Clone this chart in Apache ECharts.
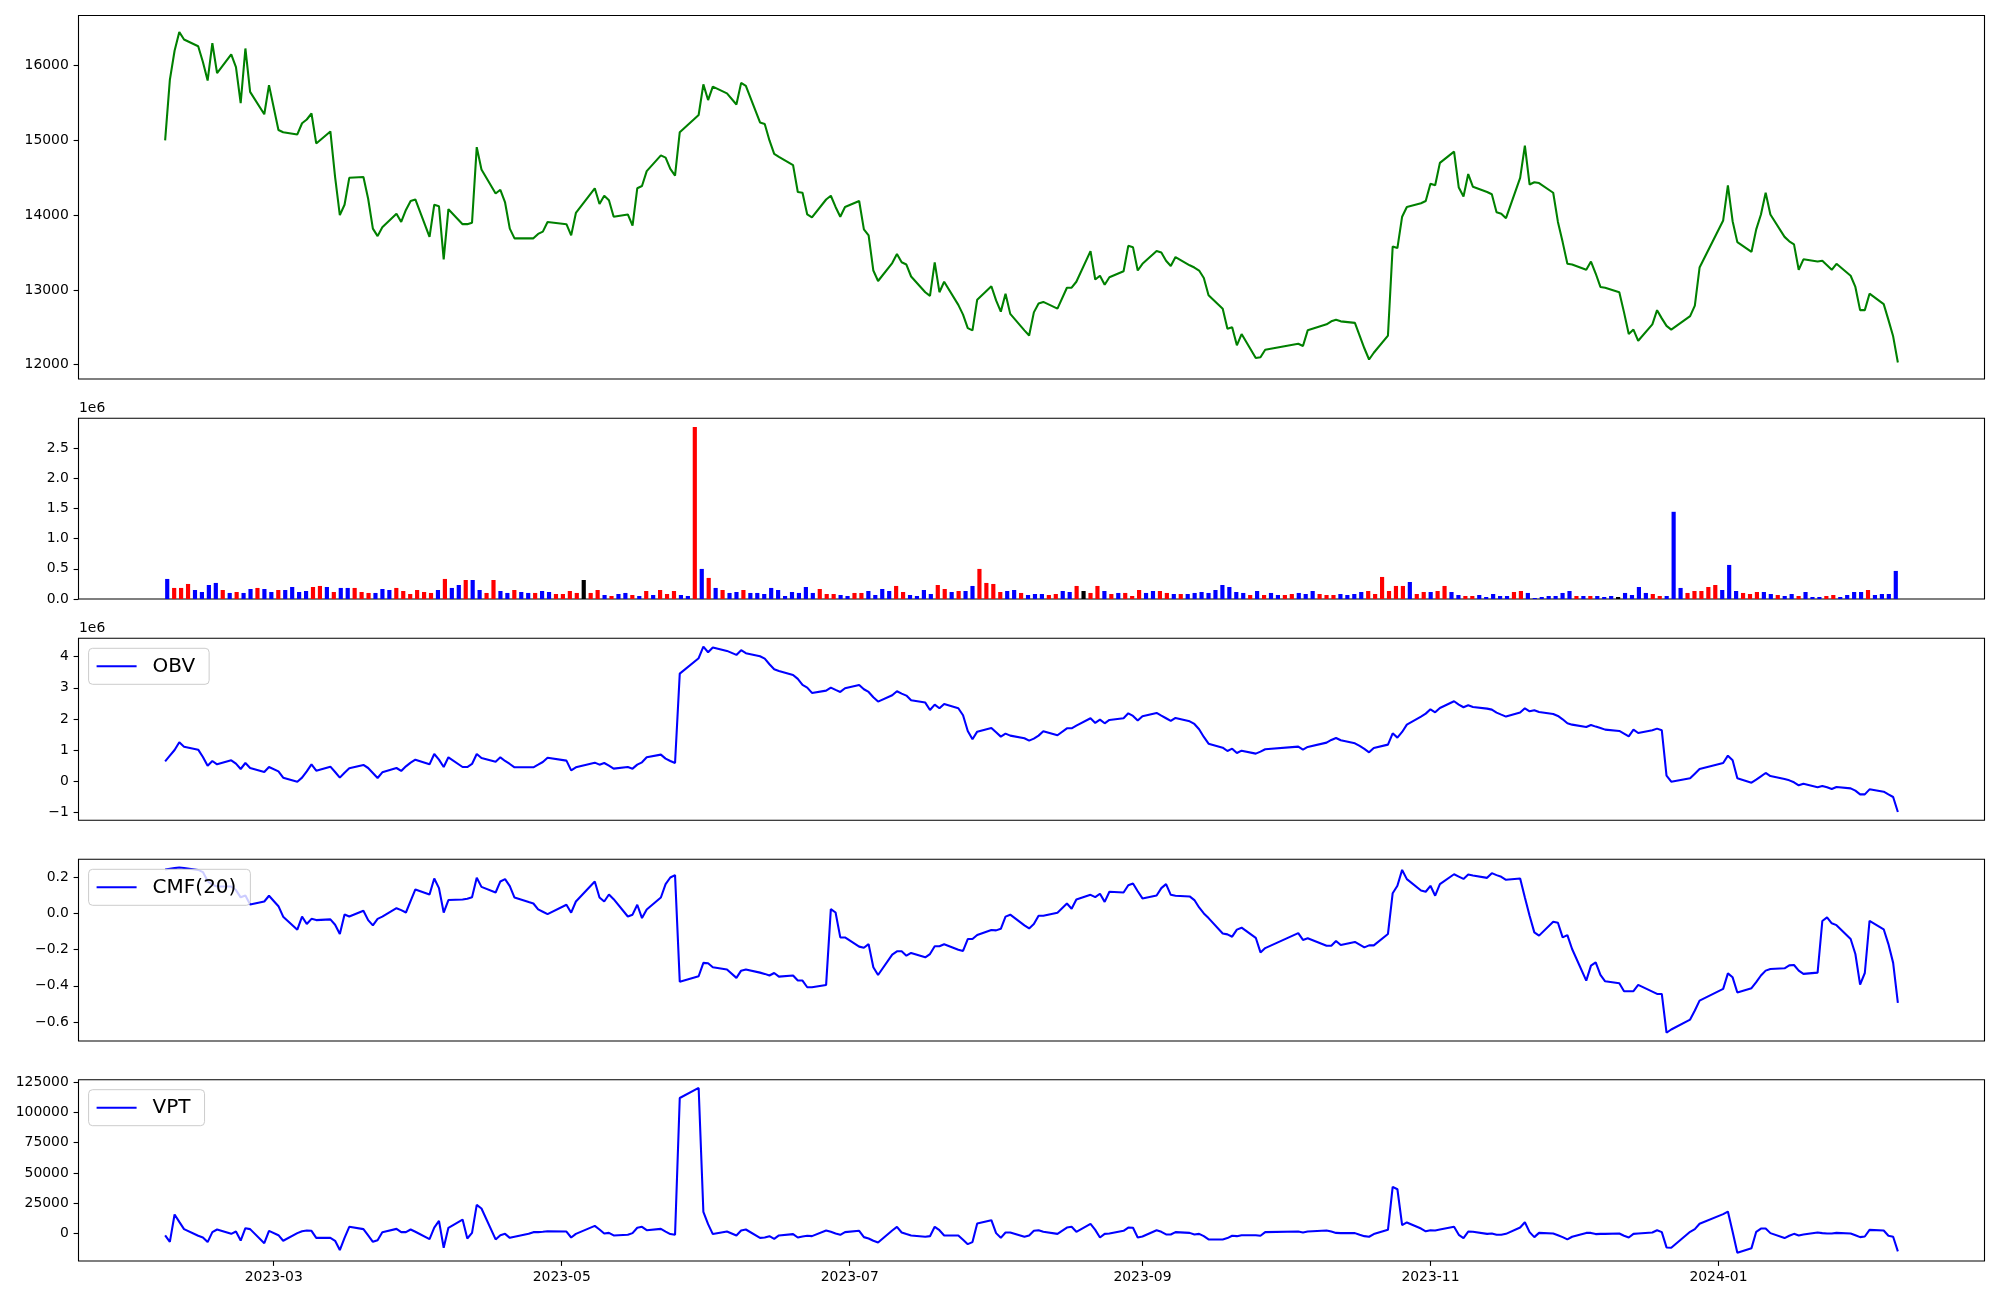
<!DOCTYPE html>
<html><head><meta charset="utf-8">
<script src="https://cdn.jsdelivr.net/npm/echarts@6/dist/echarts.min.js"></script>
<style>html,body{margin:0;padding:0;background:#fff}#c{width:2000px;height:1300px}</style>
</head><body><div id="c"></div>
<script>
// ---- calendar (KRX trading days) ----
const START = '2023-02-06', END = '2024-02-08';
const HOLIDAYS = ['2023-03-01','2023-05-01','2023-05-05','2023-05-29','2023-06-06','2023-08-15',
  '2023-09-28','2023-09-29','2023-10-02','2023-10-03','2023-10-09','2023-12-25','2023-12-29','2024-01-01'];
const X_TICKS = ['2023-03-01','2023-05-01','2023-07-01','2023-09-01','2023-11-01','2024-01-01'];

// ---- data ----
const CLOSE = [15000,15810,16200,16450,16350,16260,16050,15800,16300,15900,
16150,15980,15500,16230,15650,15350,15740,15140,15110,15080,
15230,15280,15360,14960,15120,14510,14000,14140,14500,14510,
14220,13820,13720,13840,14020,13910,14070,14190,14210,13710,
14140,14120,13410,14080,13880,13880,13900,14910,14610,14290,
14340,14170,13820,13690,13690,13690,13750,13780,13910,13880,
13730,14030,14360,14150,14260,14200,13980,14010,13860,14360,
14390,14590,14800,14770,14620,14530,15110,15340,15750,15540,
15720,15630,15480,15770,15730,15240,15220,15000,14820,14780,
14670,14310,14300,14010,13970,14210,14260,14110,13980,14110,
14190,13810,13730,13260,13120,13360,13480,13370,13340,13180,
12970,12920,13370,12970,13110,12800,12670,12490,12460,12870,
13050,12860,12710,12950,12680,12460,12390,12700,12820,12840,
12750,13030,13030,13110,13520,13140,13190,13070,13170,13250,
13590,13570,13260,13350,13520,13500,13390,13320,13440,13330,
13300,13260,13160,12930,12750,12480,12500,12260,12410,12090,
12100,12200,12280,12250,12460,12540,12580,12600,12580,12560,
12390,12220,12070,12160,12390,13580,13560,13980,14110,14160,
14190,14420,14400,14700,14850,14370,14250,14550,14380,14310,
14280,14040,14020,13960,14500,14930,14410,14440,14430,14300,
13910,13640,13350,13340,13270,13380,13220,13040,13030,12970,
12700,12410,12470,12320,12540,12730,12620,12520,12470,12650,
12790,13300,13930,14400,13920,13640,13510,13810,14010,14300,
14010,13710,13650,13610,13270,13410,13380,13390,13330,13270,
13350,13190,13040,12730,12730,12950,12810,12600,12380,12030];

// volume in units of 1e6
const VOLUME_M = [0.332,0.183,0.183,0.249,0.149,0.116,0.232,0.266,0.149,0.100,
0.116,0.100,0.166,0.183,0.166,0.116,0.149,0.149,0.199,0.116,
0.133,0.199,0.216,0.199,0.116,0.183,0.183,0.183,0.116,0.100,
0.100,0.166,0.149,0.183,0.133,0.083,0.149,0.116,0.100,0.149,
0.332,0.183,0.232,0.315,0.315,0.149,0.100,0.315,0.133,0.100,
0.149,0.116,0.100,0.100,0.133,0.116,0.083,0.083,0.133,0.100,
0.315,0.100,0.149,0.066,0.050,0.083,0.100,0.066,0.050,0.133,
0.066,0.149,0.083,0.133,0.066,0.050,2.850,0.498,0.349,0.183,
0.149,0.100,0.116,0.149,0.100,0.100,0.083,0.183,0.149,0.050,
0.116,0.100,0.199,0.100,0.166,0.083,0.083,0.066,0.050,0.100,
0.100,0.133,0.066,0.166,0.133,0.216,0.116,0.066,0.050,0.149,
0.083,0.232,0.166,0.116,0.133,0.133,0.216,0.498,0.266,0.249,
0.116,0.133,0.149,0.100,0.066,0.083,0.083,0.066,0.083,0.133,
0.116,0.216,0.133,0.100,0.216,0.133,0.083,0.100,0.100,0.050,
0.149,0.100,0.133,0.133,0.100,0.083,0.083,0.083,0.100,0.116,
0.100,0.149,0.232,0.199,0.116,0.100,0.066,0.133,0.066,0.100,
0.066,0.066,0.083,0.100,0.083,0.133,0.083,0.066,0.066,0.083,
0.066,0.083,0.116,0.133,0.083,0.365,0.133,0.216,0.216,0.282,
0.083,0.116,0.116,0.133,0.216,0.116,0.066,0.050,0.050,0.066,
0.033,0.083,0.050,0.050,0.116,0.133,0.100,0.017,0.033,0.050,
0.050,0.100,0.133,0.050,0.050,0.050,0.050,0.033,0.050,0.033,
0.100,0.066,0.199,0.100,0.083,0.050,0.050,1.444,0.183,0.100,
0.133,0.133,0.199,0.232,0.149,0.564,0.133,0.100,0.083,0.116,
0.116,0.083,0.066,0.050,0.083,0.050,0.116,0.033,0.033,0.050,
0.066,0.033,0.066,0.116,0.116,0.149,0.066,0.083,0.083,0.465];

// candle direction of each day: 1 up (close>open), -1 down, 0 unchanged
const CANDLE_DIR = [-1,1,1,1,-1,-1,-1,-1,1,-1,
1,-1,-1,1,-1,-1,1,-1,-1,-1,
-1,1,1,-1,1,-1,-1,1,1,1,
-1,-1,-1,1,1,1,1,1,1,-1,
1,-1,-1,1,-1,-1,1,1,-1,-1,
1,-1,-1,1,-1,-1,1,1,1,1,
0,1,1,-1,1,-1,-1,1,-1,1,
-1,1,1,1,-1,-1,1,-1,1,-1,
1,-1,-1,1,-1,-1,-1,-1,-1,-1,
-1,-1,-1,-1,1,1,1,-1,-1,1,
1,-1,-1,-1,-1,1,1,-1,-1,-1,
-1,1,1,-1,1,-1,-1,1,1,1,
1,-1,-1,1,-1,-1,-1,1,1,-1,
-1,1,0,1,1,-1,1,-1,1,1,
1,-1,-1,1,1,-1,1,-1,-1,-1,
-1,-1,-1,-1,-1,-1,1,-1,1,-1,
-1,1,1,-1,-1,-1,1,1,1,-1,
-1,-1,-1,1,1,1,1,1,1,-1,
1,1,-1,1,1,-1,-1,1,1,-1,
-1,-1,-1,-1,1,1,-1,-1,-1,-1,
-1,-1,-1,1,-1,1,-1,-1,-1,0,
-1,-1,-1,-1,1,1,-1,-1,-1,1,
1,1,1,1,-1,-1,-1,1,1,1,
-1,-1,1,-1,-1,1,-1,-1,-1,1,
1,-1,-1,-1,-1,1,-1,-1,-1,-1];

// OBV in units of 1e6
const OBV_M = [0.642,0.824,1.006,1.253,1.113,1.017,0.782,0.503,0.653,0.546,
0.675,0.567,0.396,0.589,0.428,0.300,0.460,0.321,0.118,-0.011,
0.118,0.321,0.546,0.343,0.471,0.300,0.118,0.278,0.418,0.525,
0.428,0.268,0.107,0.289,0.428,0.332,0.482,0.600,0.696,0.546,
0.878,0.696,0.460,0.771,0.460,0.460,0.557,0.878,0.749,0.632,
0.771,0.653,0.557,0.450,0.450,0.450,0.535,0.621,0.760,0.664,
0.353,0.450,0.600,0.535,0.589,0.503,0.407,0.460,0.407,0.535,
0.610,0.771,0.857,0.728,0.653,0.589,3.458,3.951,4.325,4.143,
4.293,4.186,4.058,4.208,4.111,4.015,3.940,3.758,3.597,3.544,
3.415,3.287,3.094,3.009,2.837,2.912,3.009,2.934,2.869,2.987,
3.094,2.955,2.869,2.698,2.559,2.762,2.891,2.816,2.752,2.602,
2.527,2.291,2.463,2.345,2.484,2.345,2.120,1.617,1.349,1.595,
1.713,1.574,1.435,1.531,1.467,1.381,1.306,1.370,1.467,1.606,
1.478,1.702,1.702,1.788,2.024,1.874,1.981,1.863,1.970,2.024,
2.184,2.099,1.949,2.088,2.195,2.109,2.024,1.938,2.034,1.927,
1.842,1.670,1.424,1.210,1.081,0.974,1.049,0.910,0.985,0.889,
0.953,1.028,1.113,1.017,1.103,1.242,1.328,1.392,1.317,1.221,
1.135,1.039,0.931,1.071,1.178,1.542,1.403,1.585,1.820,2.077,
2.173,2.313,2.216,2.355,2.570,2.463,2.377,2.441,2.388,2.334,
2.302,2.206,2.141,2.077,2.206,2.345,2.248,2.281,2.227,2.163,
2.099,1.991,1.863,1.820,1.745,1.809,1.756,1.713,1.660,1.617,
1.531,1.445,1.660,1.552,1.638,1.692,1.638,0.182,-0.011,0.096,
0.246,0.396,0.589,0.824,0.675,0.096,-0.043,0.054,0.161,0.268,
0.171,0.075,0.032,-0.032,-0.128,-0.075,-0.193,-0.150,-0.193,-0.246,
-0.182,-0.225,-0.300,-0.418,-0.418,-0.257,-0.332,-0.418,-0.503,-0.985];

const CMF20 = [0.244,0.248,0.252,0.255,0.253,0.242,0.230,0.180,0.160,0.150,
0.150,0.130,0.090,0.100,0.050,0.067,0.099,0.041,-0.017,-0.089,
-0.017,-0.058,-0.029,-0.036,-0.032,-0.062,-0.113,-0.005,-0.016,0.016,
-0.036,-0.065,-0.029,-0.017,0.030,0.019,0.006,0.071,0.134,0.106,
0.194,0.141,0.006,0.075,0.078,0.082,0.090,0.198,0.148,0.117,
0.178,0.191,0.152,0.089,0.064,0.056,0.023,0.010,-0.003,0.049,
0.005,0.067,0.178,0.089,0.067,0.106,0.080,-0.016,-0.006,0.049,
-0.025,0.023,0.089,0.163,0.200,0.213,-0.377,-0.347,-0.273,-0.275,
-0.297,-0.310,-0.356,-0.316,-0.310,-0.327,-0.334,-0.343,-0.329,-0.349,
-0.343,-0.371,-0.371,-0.408,-0.408,-0.395,0.025,0.006,-0.132,-0.132,
-0.183,-0.189,-0.169,-0.297,-0.340,-0.227,-0.209,-0.209,-0.233,-0.218,
-0.242,-0.224,-0.181,-0.181,-0.170,-0.200,-0.207,-0.141,-0.141,-0.119,
-0.091,-0.093,-0.084,-0.017,-0.006,-0.065,-0.082,-0.058,-0.012,-0.012,
0.005,0.056,0.027,0.078,0.104,0.091,0.110,0.065,0.121,0.117,
0.157,0.167,0.124,0.084,0.100,0.141,0.163,0.104,0.099,0.095,
0.075,0.034,0.001,-0.025,-0.110,-0.115,-0.128,-0.089,-0.078,-0.134,
-0.215,-0.191,-0.108,-0.146,-0.137,-0.178,-0.178,-0.152,-0.174,-0.157,
-0.172,-0.187,-0.176,-0.176,-0.113,0.113,0.154,0.242,0.191,0.128,
0.121,0.154,0.099,0.163,0.218,0.205,0.192,0.216,0.211,0.198,
0.224,0.213,0.204,0.187,0.194,0.089,-0.012,-0.104,-0.122,-0.045,
-0.051,-0.132,-0.119,-0.196,-0.371,-0.288,-0.270,-0.340,-0.375,-0.386,
-0.430,-0.430,-0.430,-0.395,-0.432,-0.445,-0.445,-0.660,-0.642,-0.587,
-0.537,-0.482,-0.417,-0.331,-0.353,-0.437,-0.413,-0.380,-0.343,-0.316,
-0.307,-0.303,-0.287,-0.285,-0.316,-0.334,-0.327,-0.041,-0.021,-0.054,
-0.064,-0.141,-0.224,-0.393,-0.329,-0.040,-0.087,-0.169,-0.273,-0.495];

const VPT = [-1600,-6900,15700,9600,3600,-1900,-3300,-7100,1100,3300,
-300,1600,-5800,4400,3600,-8000,2200,-1400,-6000,300,
1900,2500,2200,-3600,-3600,-6000,-13700,-3600,5500,3600,
-1600,-6900,-5500,1100,3800,1100,1100,3300,1400,-4700,
4900,10400,-11800,4700,11500,-4100,500,23600,20600,-4900,
-1400,-300,-3600,-2700,-300,1100,1100,1400,1900,1600,
-3300,-300,6300,3300,0,500,-1600,-1100,300,4700,
5500,2700,3800,1600,-500,-1100,111800,120100,17900,7700,
-500,1600,-1600,2500,3300,-3600,-3300,-2200,-4400,-1600,
-500,-3300,-2500,-1900,-2200,2500,1400,0,-1100,1100,
2200,-3000,-4100,-6000,-7400,2500,5500,800,-500,-1600,
-2700,-2200,5500,2700,-1600,-1600,-5200,-8800,-7100,8200,
11000,300,-3600,800,800,-2700,-1600,2200,2700,1400,
-300,4900,5500,1400,8000,3000,-3300,-300,0,2200,
4900,4700,-3300,-2500,2700,1400,-800,-800,1100,500,
-800,-300,-2200,-4900,-4900,-3800,-1900,-2200,-1400,-1400,
-1900,1100,1600,800,1600,2500,1600,500,300,300,
-1100,-2200,-2700,-500,3000,38500,36500,6900,9100,4100,
1800,2700,2500,3300,5500,-1100,-3800,1600,1400,-300,
0,-1100,-1100,-300,4900,9300,1100,-3000,500,0,
-1400,-3000,-4900,-2700,500,500,-500,-300,-300,0,
-1900,-3300,-300,0,800,2700,1100,-11500,-11800,1400,
3600,8000,16000,18100,1400,-15900,-12100,1400,4100,4100,
300,-3800,-1900,-300,-1600,-800,800,300,0,0,
500,0,-1400,-3000,-2500,3000,2500,-1900,-2700,-14800];

const PRICE_TICKS = [12000,13000,14000,15000,16000];
const VOL_TICKS = [0,0.5,1.0,1.5,2.0,2.5];
const OBV_TICKS = [-1,0,1,2,3,4];
const CMF_TICKS = [-0.6,-0.4,-0.2,0,0.2];
const VPT_TICKS = [0,25000,50000,75000,100000,125000];

// ---- build ----
const DAY = 86400000;
function utc(s){const p=s.split('-').map(Number);return Date.UTC(p[0],p[1]-1,p[2]);}
const hs = new Set(HOLIDAYS);
const DATES = [];
for (let t = utc(START); t <= utc(END); t += DAY) {
  const d = new Date(t), wd = d.getUTCDay();
  if (wd === 0 || wd === 6) continue;
  if (hs.has(d.toISOString().slice(0,10))) continue;
  DATES.push(t);
}
const N = DATES.length;
function lim(a){const mn=Math.min(...a),mx=Math.max(...a),r=mx-mn;return [mn-0.05*r,mx+0.05*r];}
const span = DATES[N-1]-DATES[0];
const xMin = DATES[0]-0.05*span, xMax = DATES[N-1]+0.05*span;
const BW = 0.6;
const vSpan = (N-1)+BW;
const vxMin = -BW/2-0.05*vSpan, vxMax = (N-1)+BW/2+0.05*vSpan;

const FONT = 'DejaVu Sans';
const minus = s => String(s).replace('-', '\u2212');
const L = 78.5, WID = 1906;
const panels = [[15.5,363.5],[418.3,180.7],[638.3,182],[859.3,181.7],[1079.7,181.3]];
const grid = panels.map(p => ({left:L, width:WID, top:p[0], height:p[1], show:true,
  borderColor:'#000', borderWidth:1.1, backgroundColor:'transparent', containLabel:false, outerBoundsMode:'none'}));

function yAx(i, mn, mx, ticks, fmt){
  return {type:'value', gridIndex:i, min:mn, max:mx, scale:false, position:'left',
    splitLine:{show:false}, axisLine:{show:false, onZero:false},
    axisTick:{show:true, length:4.9, customValues:ticks, lineStyle:{color:'#000', width:1.1}},
    axisLabel:{show:true, customValues:ticks, formatter:fmt, margin:9.7,
      fontFamily:FONT, fontSize:13.9, color:'#000'}};
}
function tAx(i, labels){
  const ax = {type:'value', gridIndex:i, min:xMin, max:xMax, position:'bottom', splitLine:{show:false},
    axisLine:{show:false, onZero:false}, axisTick:{show:false}, axisLabel:{show:false}};
  if (labels) {
    const tv = X_TICKS.map(utc);
    ax.axisTick = {show:true, length:4.9, customValues:tv, lineStyle:{color:'#000', width:1.1}};
    ax.axisLabel = {show:true, customValues:tv, margin:9.7, fontFamily:FONT, fontSize:13.9, color:'#000',
      formatter: v => { const d=new Date(v); return d.getUTCFullYear()+'-'+String(d.getUTCMonth()+1).padStart(2,'0'); }};
  }
  return ax;
}
const pl = lim(CLOSE), ol = lim(OBV_M), cl = lim(CMF20), vl = lim(VPT);
const volMax = Math.max(...VOLUME_M)*1.05;
const DIR_COLOR = {'1':'#ff0000','-1':'#0000ff','0':'#000000'};

const legendBase = {orient:'horizontal', left:88.6, icon:'rect', itemWidth:40, itemHeight:2.08, padding:[8,14,8,8],
  backgroundColor:'rgba(255,255,255,0.8)', borderColor:'#cccccc', borderWidth:1, borderRadius:4,
  selectedMode:false, textStyle:{fontFamily:FONT, fontSize:20, color:'#000', lineHeight:20, padding:[0,0,0,11]}};

const line = (name, xi, yi, vals, color) => ({type:'line', name, xAxisIndex:xi, yAxisIndex:yi,
  data: DATES.map((t,k)=>[t, vals[k]]), showSymbol:false, symbol:'none', z:2,
  lineStyle:{color, width:2.08}, itemStyle:{color}, emphasis:{disabled:true}});

const option = {
  animation:false, backgroundColor:'#fff',
  grid,
  xAxis:[tAx(0,false),
    {type:'value', gridIndex:1, min:vxMin, max:vxMax, position:'bottom', splitLine:{show:false},
      axisLine:{show:false, onZero:false}, axisTick:{show:false}, axisLabel:{show:false}},
    tAx(2,false), tAx(3,false), tAx(4,true)],
  yAxis:[
    yAx(0, pl[0], pl[1], PRICE_TICKS, v=>String(v)),
    yAx(1, 0, volMax, VOL_TICKS, v=>v.toFixed(1)),
    yAx(2, ol[0], ol[1], OBV_TICKS, v=>minus(Math.round(v))),
    yAx(3, cl[0], cl[1], CMF_TICKS, v=>minus((Math.abs(v)<1e-9?0:v).toFixed(1))),
    yAx(4, vl[0], vl[1], VPT_TICKS, v=>String(v))
  ],
  legend:[
    Object.assign({}, legendBase, {top:648.3, data:['OBV']}),
    Object.assign({}, legendBase, {top:869.3, data:['CMF(20)']}),
    Object.assign({}, legendBase, {top:1089.7, data:['VPT']})
  ],
  graphic:[
    {type:'text', left:79, top:401, style:{text:'1e6', font:'13.9px "DejaVu Sans"', fill:'#000'}},
    {type:'text', left:79, top:621, style:{text:'1e6', font:'13.9px "DejaVu Sans"', fill:'#000'}}
  ],
  series:[
    line('Close', 0, 0, CLOSE, '#008000'),
    {type:'bar', name:'Volume', xAxisIndex:1, yAxisIndex:1, barWidth:4.17, z:2,
      data: VOLUME_M.map((v,k)=>[k, v]),
      itemStyle:{color: p => DIR_COLOR[String(CANDLE_DIR[p.dataIndex])]}, emphasis:{disabled:true}},
    line('OBV', 2, 2, OBV_M, '#0000ff'),
    line('CMF(20)', 3, 3, CMF20, '#0000ff'),
    line('VPT', 4, 4, VPT, '#0000ff')
  ]
};
const chart = echarts.init(document.getElementById('c'), null, {renderer:'canvas', width:2000, height:1300});
chart.setOption(option);
console.log('points', N);
</script>
</body></html>
